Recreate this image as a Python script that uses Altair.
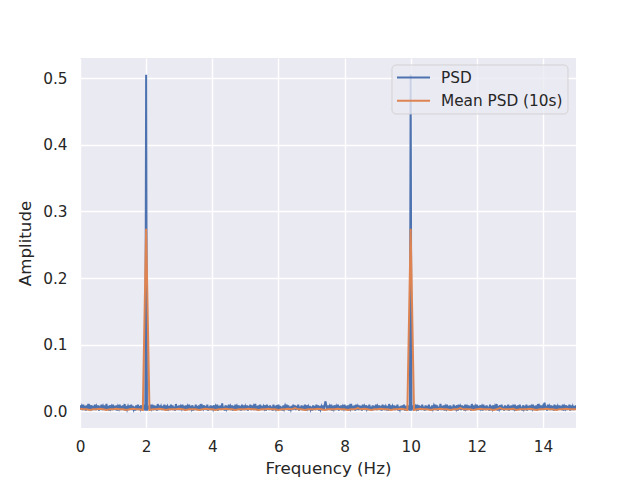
import altair as alt
import pandas as pd

# ---- data (amplitudes in thousandths) ----
PSD_STEP_HZ = 0.025
MEAN_STEP_HZ = 0.1

psd_milli = [
    9, 3, 7, 2, 10, 4, 8, 1, 9, 3, 11, 2, 7, 4, 9, 2, 8, 3, 10, 2,
    7, 3, 9, 1, 8, 4, 10, 2, 7, 3, 9, 2, 11, 3, 8, 1, 9, 4, 7, 2,
    10, 3, 8, 2, 9, 1, 7, 4, 10, 2, 8, 3, 9, 2, 11, 1, 8, 3, 7, 2,
    9, 4, 10, 2, 8, 3, 7, 1, 9, 3, 10, 2, 8, 4, 9, 2, 7, 3, 10, 1,
    505, 1, 8, 3, 9, 2, 10, 4, 7, 2, 9, 3, 8, 1, 11, 2, 9, 3, 7, 2,
    8, 3, 10, 2, 9, 1, 7, 4, 8, 2, 10, 3, 9, 2, 7, 1, 11, 3, 8, 2,
    9, 2, 7, 4, 10, 3, 8, 1, 9, 2, 7, 3, 10, 2, 8, 4, 9, 1, 7, 3,
    10, 2, 8, 3, 9, 1, 11, 2, 7, 4, 9, 3, 8, 2, 10, 1, 7, 3, 9, 2,
    8, 4, 9, 2, 7, 3, 10, 1, 8, 3, 9, 2, 12, 3, 7, 1, 9, 4, 8, 2,
    10, 3, 7, 2, 9, 1, 8, 4, 10, 2, 7, 3, 9, 2, 8, 1, 10, 3, 9, 2,
    7, 3, 9, 1, 8, 4, 10, 2, 9, 3, 7, 2, 11, 3, 8, 1, 9, 2, 10, 3,
    8, 2, 7, 4, 9, 1, 10, 3, 8, 2, 9, 3, 7, 1, 10, 2, 8, 4, 9, 2,
    10, 3, 8, 2, 7, 1, 9, 4, 8, 3, 10, 2, 9, 1, 7, 3, 8, 2, 10, 3,
    9, 2, 8, 4, 10, 1, 7, 3, 9, 2, 8, 3, 10, 1, 9, 4, 7, 2, 8, 3,
    7, 1, 9, 3, 8, 2, 10, 4, 9, 1, 8, 3, 7, 2, 9, 3, 10, 15, 8, 2,
    9, 3, 7, 2, 10, 1, 8, 4, 9, 2, 7, 3, 10, 1, 8, 3, 9, 2, 7, 4,
    10, 2, 8, 3, 9, 1, 7, 4, 11, 2, 8, 3, 9, 1, 10, 3, 7, 2, 9, 3,
    8, 1, 10, 3, 7, 2, 9, 4, 8, 2, 10, 3, 7, 1, 9, 2, 8, 4, 10, 2,
    7, 3, 9, 2, 8, 1, 10, 3, 9, 2, 7, 4, 8, 1, 11, 3, 9, 2, 7, 3,
    9, 2, 8, 4, 10, 1, 7, 3, 8, 2, 9, 3, 10, 1, 8, 4, 7, 2, 9, 1,
    505, 1, 9, 3, 8, 2, 7, 4, 10, 1, 9, 3, 8, 2, 10, 3, 7, 1, 9, 2,
    8, 3, 10, 2, 7, 1, 9, 4, 8, 3, 10, 2, 9, 1, 7, 3, 11, 2, 8, 3,
    9, 1, 7, 4, 10, 2, 8, 3, 9, 1, 7, 3, 10, 2, 8, 4, 9, 1, 10, 3,
    7, 2, 9, 3, 8, 1, 10, 4, 7, 2, 9, 3, 8, 1, 11, 2, 9, 3, 7, 2,
    10, 3, 8, 2, 9, 4, 7, 1, 10, 3, 8, 2, 9, 3, 7, 1, 10, 2, 8, 4,
    9, 2, 7, 3, 11, 1, 8, 4, 9, 2, 10, 3, 7, 1, 9, 3, 8, 2, 10, 1,
    8, 3, 9, 2, 7, 4, 10, 1, 8, 3, 9, 2, 10, 3, 7, 1, 9, 4, 8, 2,
    10, 1, 8, 3, 9, 2, 7, 4, 10, 2, 8, 3, 9, 1, 11, 3, 7, 2, 9, 3,
    7, 2, 13, 4, 8, 1, 10, 3, 7, 2, 9, 3, 8, 1, 10, 4, 9, 2, 7, 3,
    9, 3, 8, 2, 10, 1, 7, 4, 9, 2, 8, 3, 10, 1, 9, 3, 7, 2, 8, 3,
    9,
]

mean_milli = [
    4, 3, 3, 2, 3, 3, 4, 3, 2, 3, 3, 4, 3, 3, 2, 3, 4, 3, 3, 2,
    274, 2, 3, 3, 4, 3, 2, 3, 3, 3, 4, 3, 2, 3, 3, 3, 2, 3, 4, 3,
    3, 2, 3, 3, 4, 3, 3, 2, 3, 3, 3, 4, 3, 3, 2, 3, 3, 4, 3, 3,
    2, 3, 3, 4, 3, 5, 3, 3, 2, 3, 3, 3, 4, 3, 2, 3, 3, 3, 4, 3,
    3, 2, 3, 3, 5, 3, 4, 3, 2, 3, 3, 4, 3, 3, 2, 3, 3, 4, 3, 2,
    274, 2, 3, 4, 3, 3, 2, 3, 3, 4, 3, 3, 2, 3, 3, 5, 3, 3, 3, 2,
    3, 4, 3, 3, 3, 2, 3, 5, 3, 3, 3, 4, 2, 3, 3, 3, 4, 3, 2, 3,
    3, 4, 3, 3, 2, 3, 3, 4, 3, 3, 3,
]

series_names = ["PSD", "Mean PSD (10s)"]
series_colors = ["#4C72B0", "#DD8452"]

x_ticks = [0, 2, 4, 6, 8, 10, 12, 14]
y_ticks = [0.0, 0.1, 0.2, 0.3, 0.4, 0.5]
x_domain = [0, 15]
y_domain = [-0.025, 0.53]

psd_df = pd.DataFrame({
    "freq": [i * PSD_STEP_HZ for i in range(len(psd_milli))],
    "amp": [v / 1000 for v in psd_milli],
})
mean_df = pd.DataFrame({
    "freq": [i * MEAN_STEP_HZ for i in range(len(mean_milli))],
    "amp": [v / 1000 for v in mean_milli],
})

TXT = "#262626"
FONT = "DejaVu Sans"

x_enc = alt.X("freq:Q", scale=alt.Scale(domain=x_domain, nice=False, zero=False),
              axis=alt.Axis(values=x_ticks, format="d", title="Frequency (Hz)"))
y_enc = alt.Y("amp:Q", scale=alt.Scale(domain=y_domain, nice=False, zero=False),
              axis=alt.Axis(values=y_ticks, format=".1f", title="Amplitude"))

psd_line = alt.Chart(psd_df).mark_line(color=series_colors[0], strokeWidth=2, clip=True).encode(
    x=x_enc, y=y_enc)
mean_line = alt.Chart(mean_df).mark_line(color=series_colors[1], strokeWidth=2, clip=True).encode(
    x=x_enc, y=y_enc)

# ---- legend box (in the upper right of the plot area) ----
box = alt.Chart(pd.DataFrame({"k": [0]})).mark_rect(
    fill="#EAEAF2", fillOpacity=0.8, stroke="#CCCCCC", strokeOpacity=0.8, strokeWidth=1, cornerRadius=4
).encode(x=alt.value(312), x2=alt.value(488), y=alt.value(7), y2=alt.value(56))

legend_layers = [box]
entry_y = [19.5, 42.8]
for name, col, yy in zip(series_names, series_colors, entry_y):
    d = pd.DataFrame({"label": [name]})
    legend_layers.append(
        alt.Chart(d).mark_rule(color=col, strokeWidth=2).encode(
            x=alt.value(317), x2=alt.value(350), y=alt.value(yy))
    )
    legend_layers.append(
        alt.Chart(d).mark_text(align="left", baseline="middle", font=FONT, fontSize=15.3, color=TXT).encode(
            x=alt.value(361), y=alt.value(yy), text="label:N")
    )

chart = alt.layer(psd_line, mean_line, *legend_layers).properties(
    width=496, height=370,
    autosize=alt.AutoSizeParams(type="none"),
    padding={"left": 80, "top": 58, "right": 64, "bottom": 52},
    background="white",
).configure_view(
    fill="#EAEAF2", strokeWidth=0
).configure_axis(
    grid=True, gridColor="white", gridWidth=1.4,
    domain=False, ticks=False, labelFlush=False,
    labelFont=FONT, labelFontSize=15.3, labelColor=TXT,
    titleFont=FONT, titleFontSize=16.7, titleColor=TXT, titleFontWeight="normal",
).configure_axisX(
    labelPadding=11, titlePadding=6,
).configure_axisY(
    labelPadding=13, titlePadding=8,
)

chart.save("out.html", embed_options={"renderer": "svg", "actions": False})
